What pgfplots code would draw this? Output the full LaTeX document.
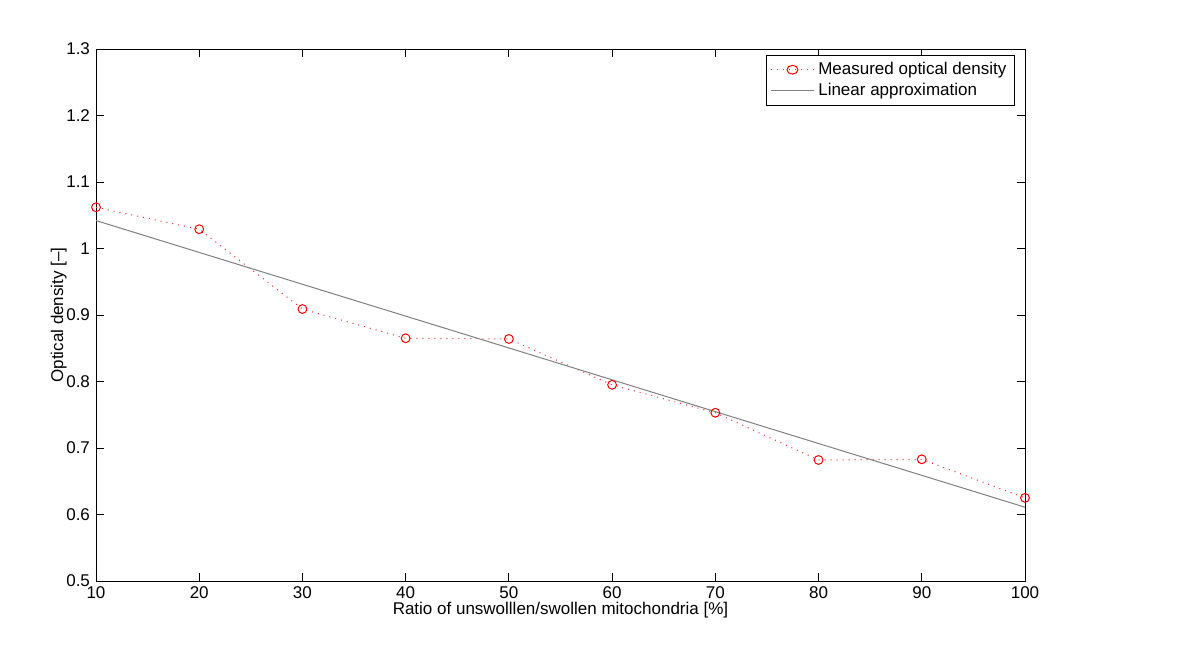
\documentclass[border=0pt]{standalone}
\usepackage{fontspec}
\setmainfont{Liberation Sans}
\usepackage{pgfplots}
\pgfplotsset{compat=1.18}
\begin{document}
\fontsize{8.5}{10}\selectfont
\begin{tikzpicture}
\path[use as bounding box] (0,0) rectangle (600pt,327pt);
\begin{axis}[
    at={(48pt,36.5pt)}, anchor=south west,
    scale only axis,
    width=464.5pt, height=266pt,
    xmin=10, xmax=100, ymin=0.5, ymax=1.3,
    xtick={10,20,...,100},
    ytick={0.5,0.6,...,1.3},
    yticklabels={0.5,0.6,0.7,0.8,0.9,1,1.1,1.2,1.3},
    tick align=inside,
    major tick length=4pt,
    tick style={black, line width=0.4pt},
    axis line style={black, line width=0.4pt},
    /pgf/number format/assume math mode=true,
    ticklabel style={font=\fontsize{8.5}{10}\selectfont},
    xlabel={Ratio of unswolllen/swollen mitochondria [\%]},
    ylabel={Optical density [–]},
    label style={font=\fontsize{8.5}{10}\selectfont},
    xlabel style={yshift=4.5pt},
    ylabel style={yshift=-6pt},
    legend style={at={(0.989,0.989)}, anchor=north east, draw=black,
        font=\fontsize{8.5}{10}\selectfont, inner xsep=2pt, inner ysep=1.5pt,
        cells={anchor=west}, row sep=-1pt},
    legend image post style={xscale=1.25},
    legend cell align=left,
]
\addplot[red!85!white, dash pattern=on 0.5pt off 2.5pt, line width=0.5pt,
    mark=o, mark size=2.2pt, mark options={red, solid, line width=0.5pt}]
coordinates {
(10,1.062) (20,1.029) (30,0.909) (40,0.865) (50,0.864)
(60,0.795) (70,0.753) (80,0.682) (90,0.683) (100,0.625)
};
\addlegendentry{Measured optical density}
\addplot[gray, line width=0.5pt] coordinates {(10,1.042) (100,0.611)};
\addlegendentry{Linear approximation}
\end{axis}
\end{tikzpicture}
\end{document}
